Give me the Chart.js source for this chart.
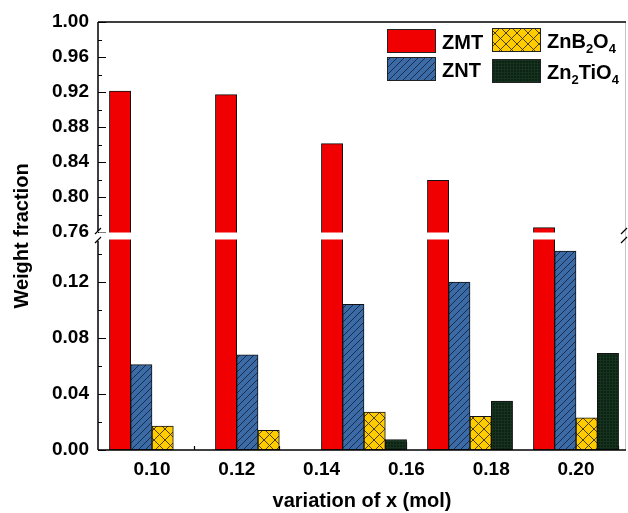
<!DOCTYPE html>
<html>
<head>
<meta charset="utf-8">
<script src="https://cdn.jsdelivr.net/npm/chart.js@4.4.0/dist/chart.umd.min.js"></script>
<style>
    html, body { margin: 0; padding: 0; background: #fff; }
    #wrap { width: 628px; height: 513px; }
</style>
</head>
<body>
<div id="wrap"><canvas id="chart" width="628" height="513"></canvas></div>
<script>
// values
const groupX = [0.10, 0.125, 0.15, 0.175, 0.20];
const zmtValues = [0.921, 0.917, 0.861, 0.819, 0.765];
const zntValues = [0.061, 0.068, 0.104, 0.120, 0.142];
const znbValues = [0.017, 0.014, 0.027, 0.024, 0.023];
const zn2Values = [0, 0, 0.0075, 0.035, 0.069];
const seriesLabels = ['ZMT', 'ZNT', 'ZnB2O4', 'Zn2TiO4'];

// tick labels
const xTicks = [0.10, 0.12, 0.14, 0.16, 0.18, 0.20];
const yLowTicks = [0.00, 0.04, 0.08, 0.12];
const yHighTicks = [0.76, 0.80, 0.84, 0.88, 0.92, 0.96, 1.00];

const FONT = '"Liberation Sans", Arial, sans-serif';

// broken y axis: 0..0.15 below the break, 0.76..1.00 above it
const LOW_MAX = 0.15;
const HIGH_MIN = 0.76;
const HIGH_MAX = 1.00;
const GAP = 0.0057;
const HIGH_K = LOW_MAX / (HIGH_MAX - HIGH_MIN);

function toAxis(v) {
    if (v <= LOW_MAX) return v;
    return LOW_MAX + GAP + (v - HIGH_MIN) * HIGH_K;
}

const yTickValues = yLowTicks.concat(yHighTicks);
const yMinor = yLowTicks.map(v => v + 0.02).filter(v => v <= LOW_MAX)
    .concat(yHighTicks.map(v => v + 0.02).filter(v => v <= HIGH_MAX));
const xMinor = [xTicks[0] - 0.01].concat(xTicks.map(v => v + 0.01));

const canvas = document.getElementById('chart');
const mainCtx = canvas.getContext('2d');

// fill patterns (hatch, cross hatch, fine grid)
function makePattern(size, bg, draw) {
    const c = document.createElement('canvas');
    c.width = size;
    c.height = size;
    const g = c.getContext('2d');
    g.fillStyle = bg;
    g.fillRect(0, 0, size, size);
    draw(g, size);
    return mainCtx.createPattern(c, 'repeat');
}

const redFill = '#f00000';
const blueFill = makePattern(7, '#3b6ba6', (g, s) => {
    g.strokeStyle = '#1a2a48';
    g.lineWidth = 1;
    g.beginPath();
    g.moveTo(-1, s + 1); g.lineTo(s + 1, -1);
    g.moveTo(-1, 1); g.lineTo(1, -1);
    g.moveTo(s - 1, s + 1); g.lineTo(s + 1, s - 1);
    g.stroke();
});
const yellowFill = makePattern(11, '#ffcc00', (g, s) => {
    g.strokeStyle = '#3a3000';
    g.lineWidth = 0.9;
    g.beginPath();
    g.moveTo(0, 0); g.lineTo(s, s);
    g.moveTo(0, s); g.lineTo(s, 0);
    g.stroke();
});
const greenFill = makePattern(3, '#0b2313', (g, s) => {
    g.fillStyle = '#173320';
    g.fillRect(0, 0, s, 1);
    g.fillRect(0, 0, 1, s);
});

function barSet(label, values, fill) {
    return {
        label: label,
        data: values.map((v, i) => ({ x: groupX[i], y: toAxis(v) })),
        backgroundColor: fill,
        borderColor: '#111',
        borderWidth: 1,
        borderSkipped: false,
        barThickness: 21.3
    };
}

// label with the digits set as subscripts
function drawRichLabel(ctx, text, x, y) {
    let cx = x;
    text.match(/\d+|\D+/g).forEach(part => {
        const sub = /\d/.test(part);
        ctx.font = `bold ${sub ? 13 : 20}px ${FONT}`;
        ctx.fillText(part, cx, sub ? y + 5 : y);
        cx += ctx.measureText(part).width;
    });
}

const axisPlugin = {
    id: 'axisPlugin',
    beforeDatasetsDraw(chart) {
        // inward ticks, drawn under the bars
        const { ctx, chartArea: a, scales: { x, y } } = chart;
        ctx.save();
        ctx.strokeStyle = '#000';
        ctx.lineWidth = 1.2;
        ctx.beginPath();
        yTickValues.forEach(v => {
            const py = Math.round(y.getPixelForValue(toAxis(v))) + 0.5;
            ctx.moveTo(a.left, py); ctx.lineTo(a.left + 8, py);
        });
        yMinor.forEach(v => {
            const py = Math.round(y.getPixelForValue(toAxis(v))) + 0.5;
            ctx.moveTo(a.left, py); ctx.lineTo(a.left + 4, py);
        });
        xTicks.forEach(v => {
            const px = Math.round(x.getPixelForValue(v)) + 0.5;
            ctx.moveTo(px, a.bottom); ctx.lineTo(px, a.bottom - 8);
        });
        xMinor.forEach(v => {
            const px = Math.round(x.getPixelForValue(v)) + 0.5;
            ctx.moveTo(px, a.bottom); ctx.lineTo(px, a.bottom - 4);
        });
        ctx.stroke();
        ctx.restore();
    },
    afterDatasetsDraw(chart) {
        const { ctx, chartArea: a, scales: { y } } = chart;
        const yBreakTop = y.getPixelForValue(toAxis(HIGH_MIN));
        const yBreakBottom = y.getPixelForValue(LOW_MAX);

        ctx.save();
        // white band across the break
        ctx.fillStyle = '#fff';
        ctx.fillRect(a.left + 1, yBreakTop + 0.5, a.right - a.left - 1, yBreakBottom - yBreakTop - 1);

        // frame: right side light grey
        ctx.strokeStyle = '#c4c4c4';
        ctx.lineWidth = 1;
        ctx.beginPath();
        ctx.moveTo(a.right - 0.5, a.top); ctx.lineTo(a.right - 0.5, a.bottom);
        ctx.stroke();

        ctx.strokeStyle = '#000';
        ctx.lineWidth = 1.5;
        ctx.beginPath();
        ctx.moveTo(a.left, a.top); ctx.lineTo(a.right, a.top);
        ctx.moveTo(a.left, a.bottom); ctx.lineTo(a.right, a.bottom);
        ctx.moveTo(a.left, a.top); ctx.lineTo(a.left, yBreakTop - 1);
        ctx.moveTo(a.left, yBreakBottom + 1); ctx.lineTo(a.left, a.bottom);
        ctx.stroke();

        // break marks on both sides
        ctx.lineWidth = 1.2;
        ctx.beginPath();
        [a.left, a.right - 2].forEach(bx => {
            ctx.moveTo(bx - 3, yBreakTop + 2); ctx.lineTo(bx + 3, yBreakTop - 4);
            ctx.moveTo(bx - 3, yBreakBottom + 3); ctx.lineTo(bx + 3, yBreakBottom - 3);
        });
        ctx.stroke();

        // legend, two columns
        const boxes = [
            { x: 387, y: 29 }, { x: 387, y: 57 },
            { x: 492, y: 28 }, { x: 492, y: 59 }
        ];
        ctx.fillStyle = '#000';
        ctx.textBaseline = 'alphabetic';
        ctx.textAlign = 'left';
        chart.data.datasets.forEach((ds, i) => {
            const b = boxes[i];
            ctx.fillStyle = ds.backgroundColor;
            ctx.fillRect(b.x, b.y, 49, 24);
            ctx.strokeStyle = '#222';
            ctx.lineWidth = 1;
            ctx.strokeRect(b.x + 0.5, b.y + 0.5, 48, 23);
            ctx.fillStyle = '#000';
            drawRichLabel(ctx, ds.label, b.x + 55, b.y + 20);
        });
        ctx.restore();
    }
};

new Chart(canvas, {
    type: 'bar',
    data: {
        datasets: [
            barSet(seriesLabels[0], zmtValues, redFill),
            barSet(seriesLabels[1], zntValues, blueFill),
            barSet(seriesLabels[2], znbValues, yellowFill),
            barSet(seriesLabels[3], zn2Values, greenFill)
        ]
    },
    options: {
        responsive: false,
        animation: false,
        events: [],
        layout: { padding: { top: 22, right: 2, bottom: 0, left: 0 } },
        plugins: {
            legend: { display: false },
            tooltip: { enabled: false }
        },
        scales: {
            x: {
                type: 'linear',
                min: 0.08726,
                max: 0.21179,
                offset: false,
                grid: { display: false, drawTicks: false, offset: false },
                border: { display: false },
                afterBuildTicks: scale => {
                    scale.ticks = xTicks.map(v => ({ value: v }));
                },
                ticks: {
                    autoSkip: false,
                    maxRotation: 0,
                    padding: 8,
                    color: '#000',
                    font: { family: FONT, size: 19, weight: 'bold' },
                    callback: value => value.toFixed(2)
                },
                title: {
                    display: true,
                    text: 'variation of x (mol)',
                    color: '#000',
                    font: { family: FONT, size: 20, weight: 'bold', lineHeight: 1 },
                    padding: { top: 0, bottom: 2 }
                },
                afterFit: scale => { scale.height = 63; }
            },
            y: {
                type: 'linear',
                min: 0,
                max: toAxis(HIGH_MAX),
                grid: { display: false, drawTicks: false },
                border: { display: false },
                afterBuildTicks: scale => {
                    scale.ticks = yTickValues.map(v => ({ value: toAxis(v) }));
                },
                ticks: {
                    autoSkip: false,
                    padding: 9,
                    color: '#000',
                    font: { family: FONT, size: 19, weight: 'bold' },
                    callback: (value, index) => yTickValues[index].toFixed(2)
                },
                title: {
                    display: true,
                    text: 'Weight fraction',
                    color: '#000',
                    font: { family: FONT, size: 20, weight: 'bold', lineHeight: 1 },
                    padding: { top: 12.5, bottom: 0 }
                },
                afterFit: scale => { scale.width = 98; }
            }
        }
    },
    plugins: [axisPlugin]
});
</script>
</body>
</html>
